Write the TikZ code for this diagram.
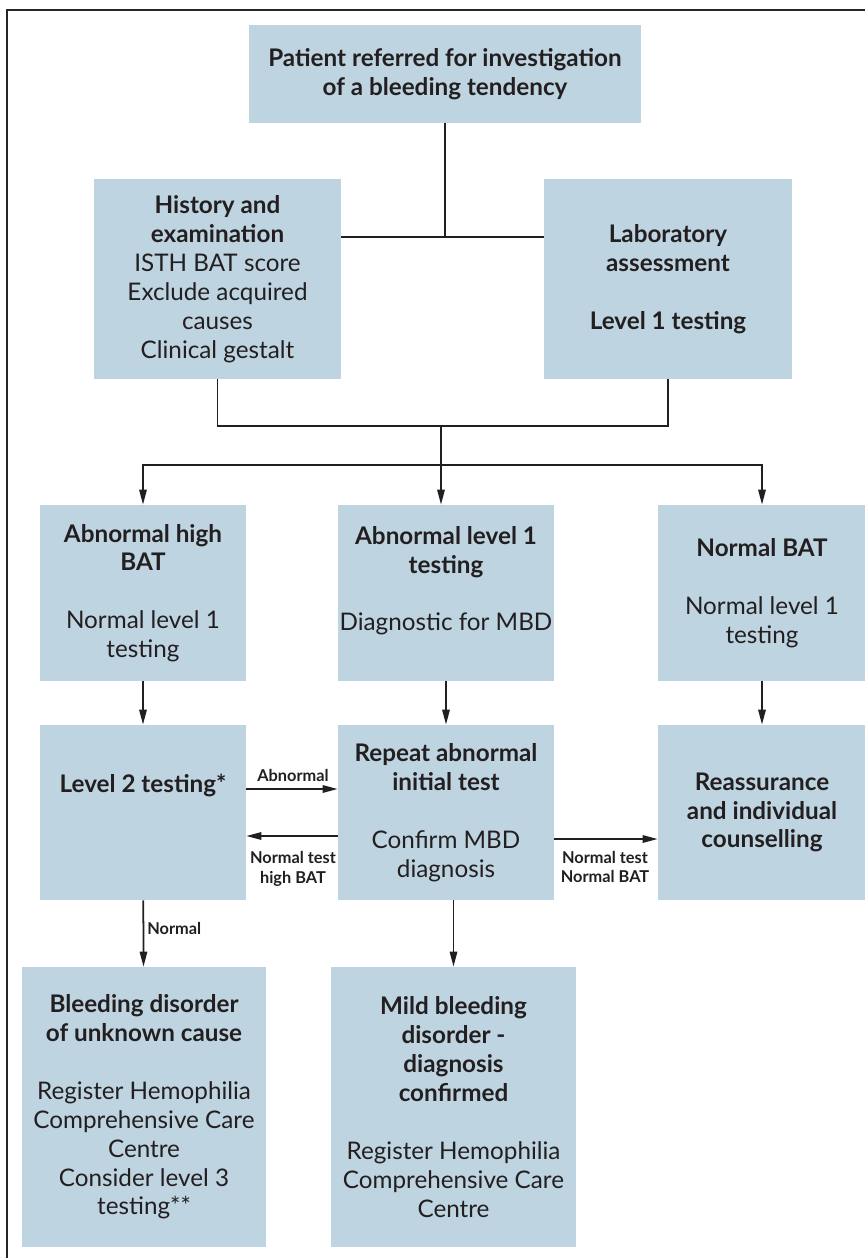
\documentclass[tikz,border=0pt]{standalone}
\usepackage{fontspec}
\setmainfont{Lato}
\usetikzlibrary{arrows.meta,calc}
\definecolor{boxblue}{HTML}{BED4E1}
\definecolor{ink}{HTML}{231F20}
\def\px{0.02cm}

\tikzset{
	box/.style={fill=boxblue, text=ink, align=center, inner sep=0pt, font=\fontsize{13.8}{16.45}\selectfont},
	lin/.style={line width=1pt, draw=ink},
	arr/.style={lin, -{Triangle[length=8.5pt,width=4.2pt]}},
	lab/.style={text=ink, align=center, inner sep=0pt, font=\bfseries\fontsize{9.3}{11}\selectfont}
}

\begin{document}
\begin{tikzpicture}[x=\px, y=-\px]
		%%%%% START %%%%%
		\useasboundingbox (0,0) rectangle (865,1258);
		\draw[line width=1.7pt, draw=black!85] (7,10) rectangle (875,1270);
		
		% first two rows
		\node[box, minimum width=392*\px, minimum height=98*\px] (patient) at (445,74)
			{\textbf{Patient referred for investigation}\\\textbf{of a bleeding tendency}};
		\node[box, minimum width=247*\px, minimum height=200*\px] (history) at (217.5,279)
			{\textbf{History and}\\\textbf{examination}\\ISTH BAT score\\Exclude acquired\\causes\\Clinical gestalt};
		\node[box, minimum width=248*\px, minimum height=200*\px] (lab) at (668,279)
			{\textbf{Laboratory}\\\textbf{assessment}\\[16.45pt]\textbf{Level 1 testing}};
		
		\coordinate (j1) at (445,237);
		\coordinate (j2) at (441,426);
		\coordinate (j3) at (441,465);
		\draw[lin] (patient) -- (j1);
		\draw[lin] (j1 -| history.east) -- (j1 -| lab.west);
		\draw[lin] (history.south) |- (j2 -| lab.south) -- (lab.south);
		\draw[lin] (j2) -- (j3);
		
		% results of level 1
		\node[box, minimum width=206*\px, minimum height=176*\px] (highbat) at (143,593)
			{\textbf{Abnormal high}\\\textbf{BAT}\\[16.45pt]Normal level 1\\testing};
		\node[box, minimum width=216*\px, minimum height=176*\px] (abnormal) at (446,593)
			{\textbf{Abnormal level 1}\\\textbf{testing}\\[16.45pt]Diagnostic for MBD\\\mbox{}};
		\node[box, minimum width=208*\px, minimum height=176*\px] (normalbat) at (762,593)
			{\textbf{Normal BAT}\\[16.45pt]Normal level 1\\testing};
		
		\draw[arr] (j3) -| (highbat.north);
		\draw[arr] (j3) -| (normalbat.north);
		\draw[arr] (j3) -- (j3 |- abnormal.north);
		
		% third row
		\node[box, minimum width=206*\px, minimum height=175*\px] (level2) at (143,812.5)
			{\textbf{Level 2 testing*}\\\mbox{}\\\mbox{}};
		\node[box, minimum width=216*\px, minimum height=175*\px] (repeat) at (446,812.5)
			{\textbf{Repeat abnormal}\\\textbf{initial test}\\[16.45pt]Confirm MBD\\diagnosis};
		\node[box, minimum width=208*\px, minimum height=175*\px] (reassure) at (762,812.5)
			{\textbf{Reassurance}\\\textbf{and individual}\\\textbf{counselling}};
		
		\draw[arr] (highbat) -- (level2);
		\draw[arr] (abnormal) -- (repeat);
		\draw[arr] (normalbat) -- (reassure);
		
		\draw[arr] ($(level2.east)+(0,-23.5)$) -- ($(repeat.west)+(0,-23.5)$);
		\draw[arr] ($(repeat.west)+(0,23.5)$) -- ($(level2.east)+(0,23.5)$);
		\draw[arr] ($(repeat.east)+(0,26.5)$) -- ($(reassure.west)+(0,26.5)$);
		\node[lab] (abn) at (293,775) {Abnormal};
		\node[lab] (nthigh) at (293,869) {Normal test\\high BAT};
		\node[lab] (ntnorm) at (605,867) {Normal test\\Normal BAT};
		
		% outcomes
		\node[box, minimum width=244*\px, minimum height=280*\px] (unknown) at (144,1107)
			{\textbf{Bleeding disorder}\\\textbf{of unknown cause}\\[16.45pt]Register Hemophilia\\Comprehensive Care\\Centre\\Consider level 3\\testing**};
		\node[box, minimum width=245*\px, minimum height=280*\px] (mild) at (453.5,1107)
			{\textbf{Mild bleeding}\\\textbf{disorder -}\\\textbf{diagnosis}\\\textbf{confirmed}\\[16.45pt]Register Hemophilia\\Comprehensive Care\\Centre};
		
		\draw[arr] (level2) -- (unknown);
		\node[lab, anchor=west] (norm) at (147,928) {Normal};
		\draw[arr] (mild.north |- repeat.south) -- (mild.north);
		
		%%%%% END %%%%%
	\end{tikzpicture}
\end{document}
